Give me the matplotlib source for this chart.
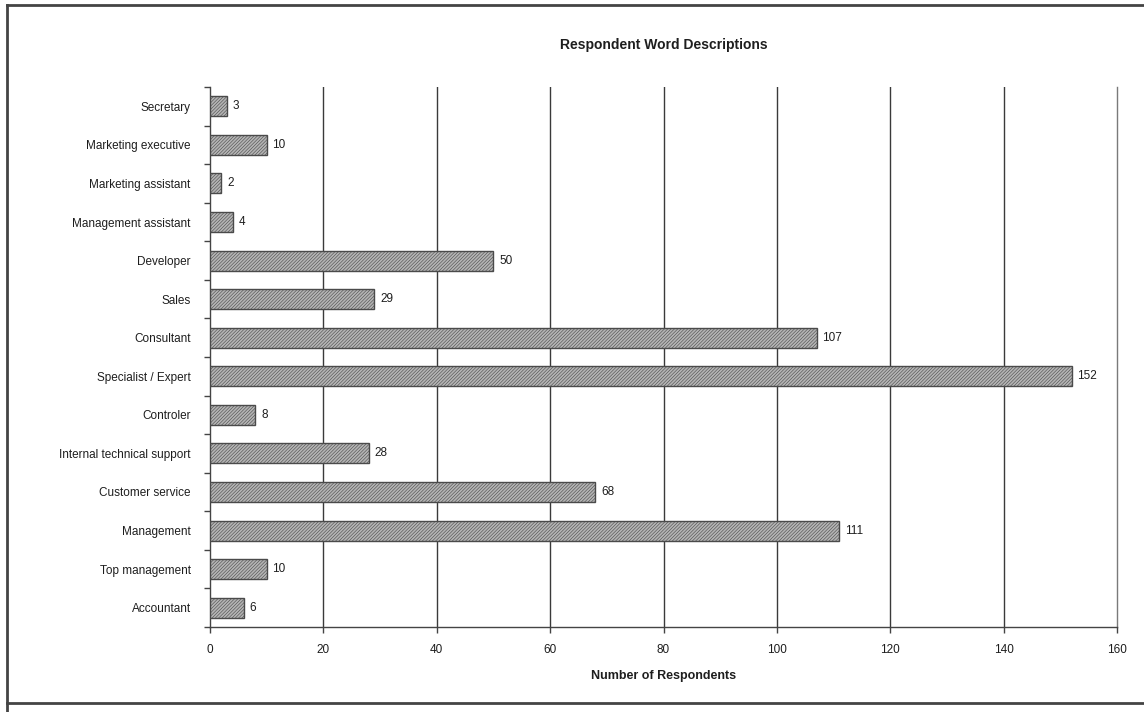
import matplotlib
matplotlib.use("Agg")
import matplotlib.pyplot as plt
from matplotlib.lines import Line2D

plt.rcParams['font.family'] = ['Liberation Sans', 'DejaVu Sans']
plt.rcParams['hatch.color'] = '#9c9c9c'
plt.rcParams['hatch.linewidth'] = 0.4

categories = [
    "Secretary", "Marketing executive", "Marketing assistant",
    "Management assistant", "Developer", "Sales", "Consultant",
    "Specialist / Expert", "Controler", "Internal technical support",
    "Customer service", "Management", "Top management", "Accountant",
]
respondents = [3, 10, 2, 4, 50, 29, 107, 152, 8, 28, 68, 111, 10, 6]
x_ticks = [0, 20, 40, 60, 80, 100, 120, 140, 160]

fig = plt.figure(figsize=(11.44, 7.12), dpi=100)
ax = fig.add_axes([0.1836, 0.1194, 0.7928, 0.7584])

ypos = list(range(len(categories)))
bars = ax.barh(ypos, respondents, height=0.52, color='#b4b4b4',
               edgecolor='#4a4a4a', linewidth=1.0, hatch='//////////', zorder=3)

for y, v in zip(ypos, respondents):
    ax.text(v + 1.0, y, str(v), va='center', ha='left', fontsize=8.5,
            color='#1e1e1e', zorder=4)

ax.set_xlim(0, 160)
ax.set_ylim(len(categories) - 0.5, -0.5)
ax.set_xticks(x_ticks)
ax.set_xticklabels([str(t) for t in x_ticks], fontsize=8.5, color='#1e1e1e')

# category labels centred on bars, tick marks on the boundaries between them
ax.set_yticks(ypos)
ax.set_yticklabels(categories, fontsize=8.5, color='#1e1e1e')
ax.tick_params(axis='y', which='major', length=0, pad=14)
ax.set_yticks([i - 0.5 for i in range(len(categories) + 1)], minor=True)
ax.tick_params(axis='y', which='minor', length=4, width=1.0, color='#444444',
               direction='out')
ax.tick_params(axis='x', length=4, width=1.0, color='#444444', direction='out',
               pad=8)

# vertical gridlines; the last one sits on the axes edge, so draw it unclipped
for t in x_ticks[1:-1]:
    ax.axvline(t, color='#3a3a3a', linewidth=1.0, zorder=0)
ax.axvline(x_ticks[-1], color='#7a7a7a', linewidth=1.0, zorder=0, clip_on=False)

for side in ('top', 'right'):
    ax.spines[side].set_visible(False)
for side in ('left', 'bottom'):
    ax.spines[side].set_color('#444444')
    ax.spines[side].set_linewidth(1.0)

ax.set_xlabel('Number of Respondents', fontsize=9, fontweight='bold',
              color='#1e1e1e', labelpad=10)
fig.text(0.58, 0.937, 'Respondent Word Descriptions', ha='center', va='center',
         fontsize=10, fontweight='bold', color='#1e1e1e')

# outer frame
frame = dict(color='#444444', linewidth=2.0, transform=fig.transFigure)
fig.add_artist(Line2D([0.006, 1.0], [0.993, 0.993], **frame))
fig.add_artist(Line2D([0.006, 0.006], [0.0, 0.993], **frame))
fig.add_artist(Line2D([0.006, 1.0], [0.013, 0.013], **frame))

fig.savefig('out.png', dpi=100, facecolor='white')
